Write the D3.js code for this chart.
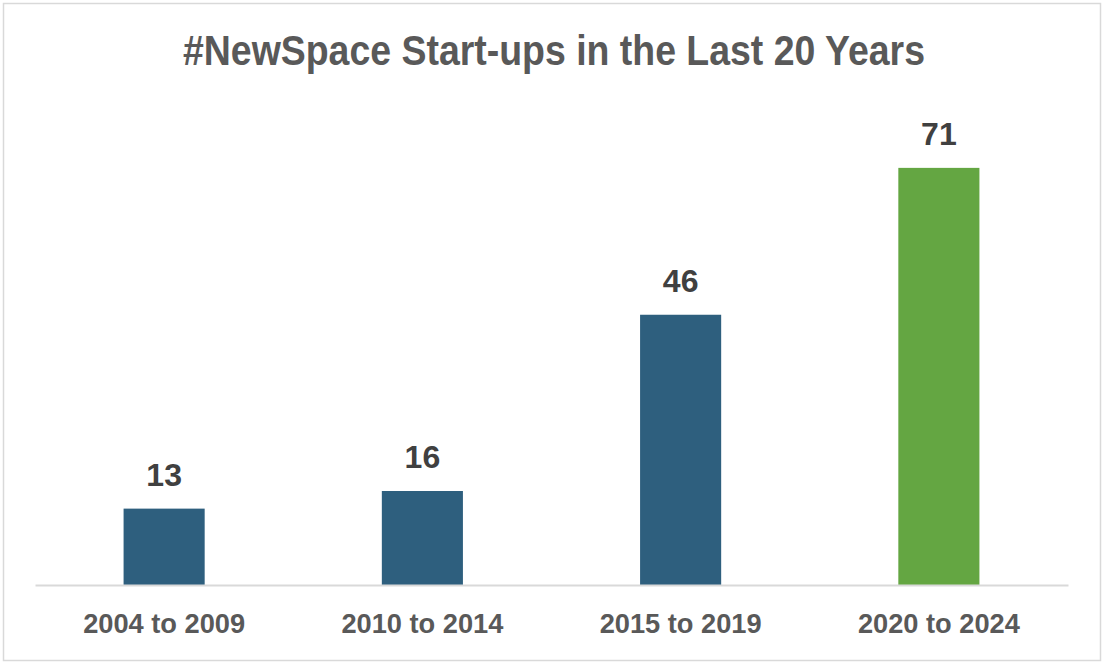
<!DOCTYPE html>
<html><head><meta charset="utf-8">
<script src="https://cdn.jsdelivr.net/npm/d3@7"></script>
<style>body{margin:0;background:#fff;}svg{display:block;}</style>
</head><body>
<svg id="c" width="1104" height="664"></svg>
<script>
const categories = ["2004 to 2009","2010 to 2014","2015 to 2019","2020 to 2024"];
const values = [13,16,46,71];
const barColors = ["#2E5F7E","#2E5F7E","#2E5F7E","#64A642"];
const titleText = "#NewSpace Start-ups in the Last 20 Years";

const svg = d3.select("#c");
const W=1104,H=664;
svg.append("rect").attr("x",3.5).attr("y",3.5).attr("width",1097).attr("height",657)
  .attr("fill","#fff").attr("stroke","#d9d9d9").attr("stroke-width",1.5);

const m={left:35,right:1068,top:115,bottom:585};
const x=d3.scaleBand().domain(categories).range([m.left,m.right]).paddingInner(0.686).paddingOuter(0.343);
const y=d3.scaleLinear().domain([0,80]).range([m.bottom,m.top]);

const font="'Liberation Sans', Arial, sans-serif";

svg.append("text").attr("x",554).attr("y",65).attr("text-anchor","middle")
  .attr("font-family",font).attr("font-weight","bold").attr("font-size",42)
  .attr("fill","#595959").attr("textLength",742).attr("lengthAdjust","spacingAndGlyphs")
  .text(titleText);

svg.selectAll("rect.bar").data(values).enter().append("rect").attr("class","bar")
  .attr("x",(d,i)=>x(categories[i])).attr("width",x.bandwidth())
  .attr("y",d=>y(d)).attr("height",d=>y(0)-y(d))
  .attr("fill",(d,i)=>barColors[i]);

const axis=svg.append("g").attr("transform",`translate(0,${m.bottom})`)
  .call(d3.axisBottom(x).tickSize(0).tickPadding(0));
axis.select(".domain").attr("stroke","#d9d9d9").attr("stroke-width",2);
axis.selectAll(".tick text").attr("font-family",font).attr("font-weight","bold")
  .attr("font-size",28).attr("fill","#595959").attr("dy",0).attr("y",48)
  .attr("textLength",162).attr("lengthAdjust","spacingAndGlyphs");

svg.selectAll("text.val").data(values).enter().append("text").attr("class","val")
  .attr("x",(d,i)=>x(categories[i])+x.bandwidth()/2).attr("y",d=>y(d)-23)
  .attr("text-anchor","middle").attr("font-family",font).attr("font-weight","bold")
  .attr("font-size",32).attr("fill","#404040").text(d=>d);
</script>
</body></html>
